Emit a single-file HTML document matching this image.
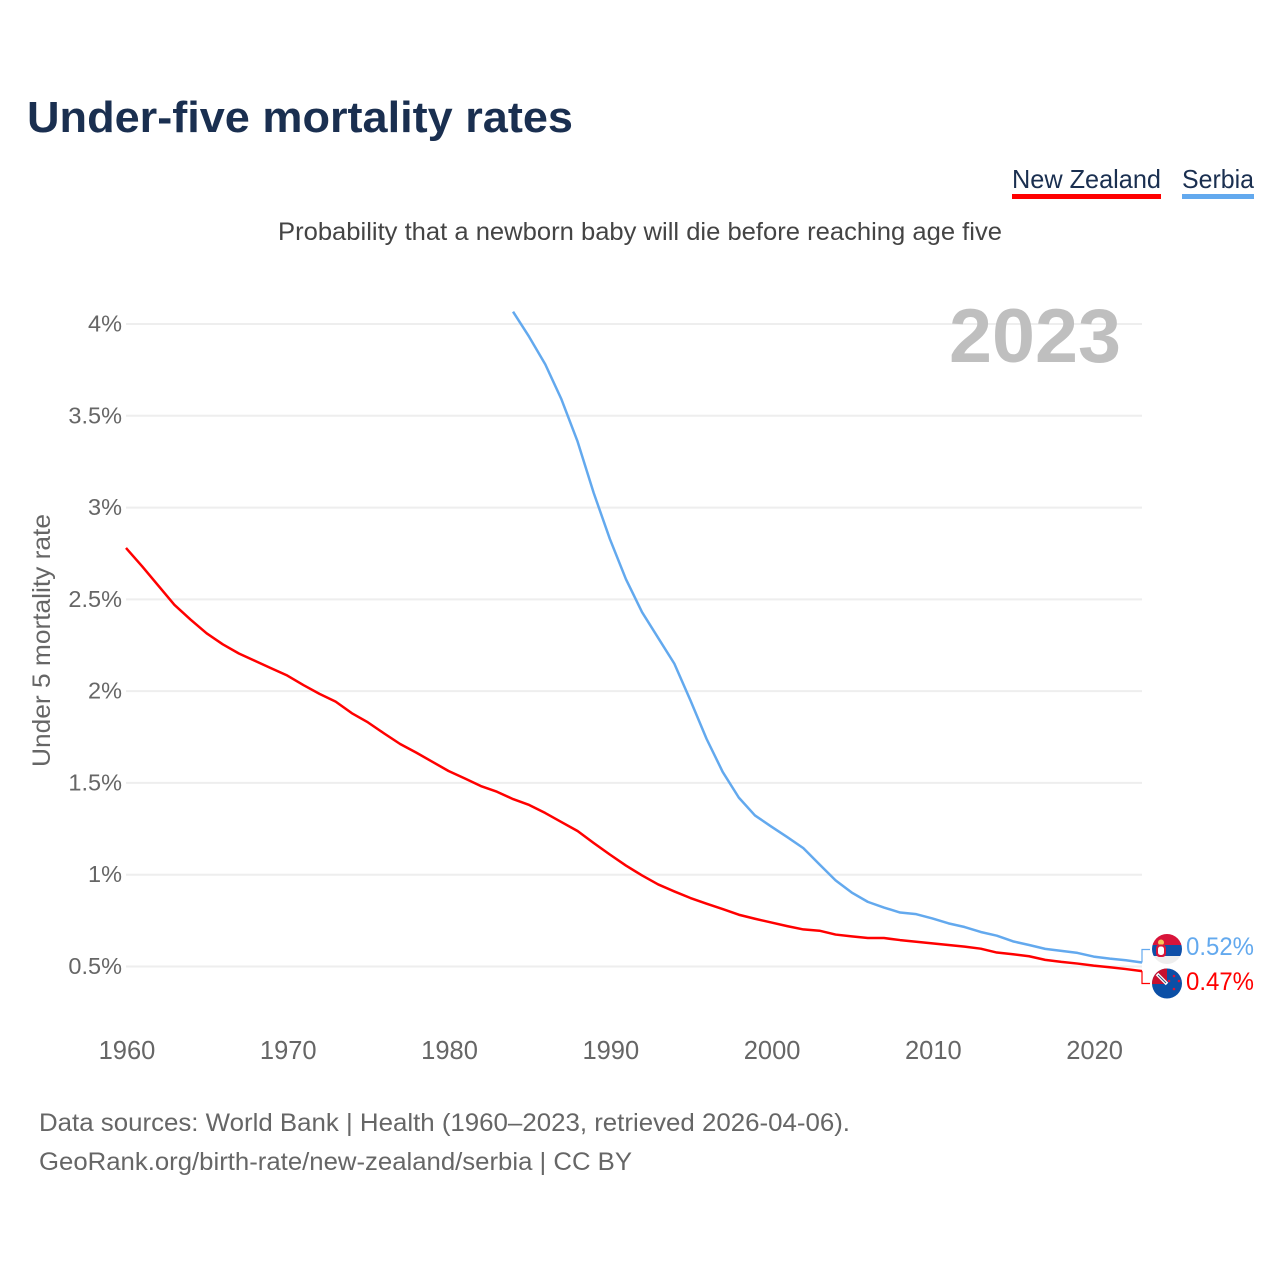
<!DOCTYPE html>
<html lang="en">
<head>
<meta charset="utf-8">
<title>Under-five mortality rates</title>
<style>
html,body{margin:0;padding:0;background:#fff;}
svg{display:block;}
text{font-family:"Liberation Sans",sans-serif;}
</style>
</head>
<body>
<svg id="chart" xmlns="http://www.w3.org/2000/svg" width="1280" height="1280" viewBox="0 0 1280 1280">
  <rect width="1280" height="1280" fill="#fff"/>
  <text x="27" y="132" font-size="44" font-weight="700" fill="#1a2f50" textLength="546" lengthAdjust="spacingAndGlyphs">Under-five mortality rates</text>

  <g>
    <text x="1012" y="188" font-size="26" fill="#1a2f50" textLength="149" lengthAdjust="spacingAndGlyphs">New Zealand</text>
    <rect x="1012" y="194" width="149" height="5" fill="#ff0000"/>
  </g>
  <g>
    <text x="1182" y="188" font-size="26" fill="#1a2f50" textLength="72" lengthAdjust="spacingAndGlyphs">Serbia</text>
    <rect x="1182" y="194" width="72" height="5" fill="#63a9ee"/>
  </g>

  <text x="278" y="240" font-size="25" fill="#444" textLength="724" lengthAdjust="spacingAndGlyphs">Probability that a newborn baby will die before reaching age five</text>
  <text transform="translate(50,767) rotate(-90)" x="0" y="0" font-size="25" fill="#666" textLength="253" lengthAdjust="spacingAndGlyphs">Under 5 mortality rate</text>

  <g id="grid"></g>
  <g id="yticks"></g>
  <g id="xticks"></g>

  <text x="949" y="362" font-size="76" font-weight="700" fill="#bfbfbf" textLength="172" lengthAdjust="spacingAndGlyphs">2023</text>

  <g id="series"></g>

  <defs>
    <clipPath id="clip-serbia"><circle cx="1167" cy="949" r="15"/></clipPath>
    <clipPath id="clip-nz"><circle cx="1167" cy="983.5" r="15"/></clipPath>
  </defs>

  <g clip-path="url(#clip-serbia)">
    <rect x="1152" y="934" width="30" height="11" fill="#d8143a"/>
    <rect x="1152" y="945" width="30" height="11" fill="#0f4fa8"/>
    <rect x="1152" y="956" width="30" height="8" fill="#eeeeee"/>
    <circle cx="1161" cy="942.500" r="3" fill="#f6c55a"/>
    <rect x="1156" y="944.500" width="10" height="12.500" rx="3.500" fill="#d8143a"/>
    <rect x="1158" y="946.500" width="6" height="8.500" rx="2.500" fill="#fff"/>
  </g>
  <g clip-path="url(#clip-nz)">
    <rect x="1152" y="968" width="30" height="31" fill="#0b4fa6"/>
    <rect x="1152" y="968" width="15" height="16" fill="#c8102e"/>
    <path d="M1157 974 L1167 984" stroke="#fff" stroke-width="3.500" fill="none"/>
    <path d="M1158 975 L1166 983" stroke="#35507f" stroke-width="1" fill="none"/>
    <circle cx="1169" cy="981" r="1.300" fill="#d8143a"/>
    <circle cx="1174" cy="976" r="1.300" fill="#d8143a"/>
    <circle cx="1179" cy="981" r="1.300" fill="#d8143a"/>
    <circle cx="1174" cy="989" r="1.300" fill="#d8143a"/>
  </g>

  <text x="1186" y="955" font-size="25" fill="#63a9ee" textLength="68" lengthAdjust="spacingAndGlyphs">0.52%</text>
  <text x="1186" y="990" font-size="25" fill="#ff0000" textLength="68" lengthAdjust="spacingAndGlyphs">0.47%</text>

  <text x="39" y="1131" font-size="25" fill="#666" textLength="811" lengthAdjust="spacingAndGlyphs">Data sources: World Bank | Health (1960–2023, retrieved 2026-04-06).</text>
  <text x="39" y="1170" font-size="25" fill="#666" textLength="593" lengthAdjust="spacingAndGlyphs">GeoRank.org/birth-rate/new-zealand/serbia | CC BY</text>
</svg>

<script>
const yTickValues = [0.5, 1, 1.5, 2, 2.5, 3, 3.5, 4];
const yTickLabels = ["0.5%", "1%", "1.5%", "2%", "2.5%", "3%", "3.5%", "4%"];
const xTickValues = [1960, 1970, 1980, 1990, 2000, 2010, 2020];
const xTickLabels = ["1960", "1970", "1980", "1990", "2000", "2010", "2020"];

const nzStartYear = 1960;
const nzValues = [
  2.78, 2.68, 2.575, 2.47, 2.39, 2.315, 2.255, 2.205, 2.165, 2.125,
  2.085, 2.033, 1.985, 1.943, 1.88, 1.83, 1.77, 1.712, 1.665, 1.615,
  1.565, 1.525, 1.483, 1.452, 1.412, 1.38, 1.336, 1.287, 1.238, 1.173,
  1.11, 1.05, 0.996, 0.947, 0.909, 0.873, 0.842, 0.813, 0.782, 0.76,
  0.74, 0.72, 0.702, 0.695, 0.674, 0.664, 0.655, 0.655, 0.644, 0.635,
  0.626, 0.617, 0.608, 0.597, 0.576, 0.567, 0.556, 0.536, 0.525, 0.516,
  0.505, 0.496, 0.486, 0.475
];

const serbiaStartYear = 1984;
const serbiaValues = [
  4.067, 3.93, 3.78, 3.59, 3.36, 3.08, 2.83, 2.61, 2.43, 2.29,
  2.15, 1.95, 1.74, 1.56, 1.42, 1.323, 1.263, 1.205, 1.145, 1.056,
  0.969, 0.903, 0.852, 0.821, 0.794, 0.785, 0.762, 0.735, 0.715, 0.688,
  0.668, 0.637, 0.617, 0.596, 0.585, 0.574, 0.554, 0.543, 0.534, 0.522
];

const SVG_NS = "http://www.w3.org/2000/svg";
function xScale(year) { return 126 + (year - 1960) * (1142 - 126) / 63; }
function yScale(value) { return 966.5 - (value - 0.5) * (966.5 - 324) / 3.5; }

const grid = document.getElementById("grid");
const yticks = document.getElementById("yticks");
const xticks = document.getElementById("xticks");
const series = document.getElementById("series");

yTickValues.forEach(function (v, i) {
  const line = document.createElementNS(SVG_NS, "line");
  
  
  line.setAttribute("x1", xScale(1960));
  line.setAttribute("x2", xScale(2023));
  line.setAttribute("y1", yScale(v));
  line.setAttribute("y2", yScale(v));
  line.setAttribute("stroke", "#eeeeee");
  line.setAttribute("stroke-width", "2");
  grid.appendChild(line);

  const label = document.createElementNS(SVG_NS, "text");
  
  
  label.setAttribute("x", 122);
  label.setAttribute("y", yScale(v) + 7.5);
  label.setAttribute("text-anchor", "end");
  label.setAttribute("font-size", "23.5");
  label.setAttribute("fill", "#666");
  label.textContent = yTickLabels[i];
  yticks.appendChild(label);
});

xTickValues.forEach(function (yr, i) {
  const label = document.createElementNS(SVG_NS, "text");
  
  
  label.setAttribute("x", xScale(yr) + 1);
  label.setAttribute("y", 1059);
  label.setAttribute("text-anchor", "middle");
  label.setAttribute("font-size", "25.5");
  label.setAttribute("fill", "#666");
  label.textContent = xTickLabels[i];
  xticks.appendChild(label);
});

function linePath(values, startYear) {
  return values.map(function (v, i) {
    return (i ? "L" : "M") + xScale(startYear + i).toFixed(2) + " " + yScale(v).toFixed(2);
  }).join(" ");
}

const nzLine = document.createElementNS(SVG_NS, "path");


nzLine.setAttribute("d", linePath(nzValues, nzStartYear));
nzLine.setAttribute("fill", "none");
nzLine.setAttribute("stroke", "#ff0000");
nzLine.setAttribute("stroke-width", "2.5");
nzLine.setAttribute("stroke-linejoin", "round");
series.appendChild(nzLine);

const serbiaLine = document.createElementNS(SVG_NS, "path");


serbiaLine.setAttribute("d", linePath(serbiaValues, serbiaStartYear));
serbiaLine.setAttribute("fill", "none");
serbiaLine.setAttribute("stroke", "#63a9ee");
serbiaLine.setAttribute("stroke-width", "2.5");
serbiaLine.setAttribute("stroke-linejoin", "round");
series.appendChild(serbiaLine);

const lastX = xScale(2023);
const serbiaEndY = yScale(serbiaValues[serbiaValues.length - 1]);
const nzEndY = yScale(nzValues[nzValues.length - 1]);

const serbiaLeader = document.createElementNS(SVG_NS, "path");


serbiaLeader.setAttribute("d", "M" + lastX + " " + serbiaEndY + " V949.5 H" + (lastX + 8));
serbiaLeader.setAttribute("fill", "none");
serbiaLeader.setAttribute("stroke", "#63a9ee");
serbiaLeader.setAttribute("stroke-width", "1.2");
series.appendChild(serbiaLeader);

const nzLeader = document.createElementNS(SVG_NS, "path");


nzLeader.setAttribute("d", "M" + lastX + " " + nzEndY + " V983.5 H" + (lastX + 8));
nzLeader.setAttribute("fill", "none");
nzLeader.setAttribute("stroke", "#ff0000");
nzLeader.setAttribute("stroke-width", "1.2");
series.appendChild(nzLeader);
</script>
</body>
</html>
